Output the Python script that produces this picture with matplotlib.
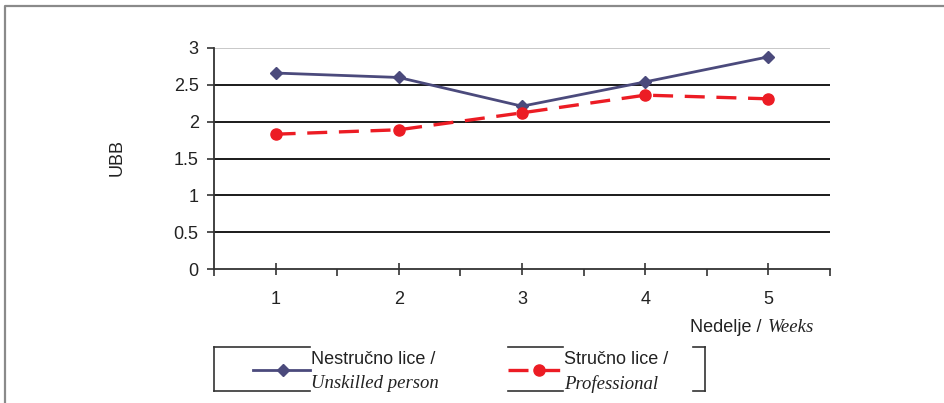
import matplotlib.pyplot as plt
from matplotlib.lines import Line2D

weeks = [1, 2, 3, 4, 5]
unskilled = [2.66, 2.60, 2.21, 2.54, 2.88]
professional = [1.83, 1.89, 2.12, 2.36, 2.31]
yticks = [0, 0.5, 1, 1.5, 2, 2.5, 3]

sans = 'Liberation Sans'
serif = 'Liberation Serif'
blue = '#4b4a7c'
red = '#ec1c24'
fs = 13

fig = plt.figure(figsize=(9.44, 4.03), dpi=100)
W, H = 944.0, 403.0

def fx(px):
    return px / W

def fy(py):
    return 1 - py / H

ax = fig.add_axes([fx(214), fy(269), fx(830) - fx(214), fy(48) - fy(269)])

for y in yticks[1:-1]:
    ax.axhline(y, color='#1a1a1a', lw=1.4, zorder=1)
ax.axhline(3, color='#c8c8c8', lw=1.4, zorder=1)

ax.plot(weeks, unskilled, color=blue, lw=2.0, marker='D', ms=6, zorder=3)
ax.plot(weeks, professional, color=red, lw=2.4, ls=(0, (6, 3.5)), marker='o', ms=8, zorder=3)

ax.set_xlim(0.5, 5.5)
ax.set_ylim(0, 3)
ax.set_xticks(weeks)
ax.set_xticks([0.5, 1.5, 2.5, 3.5, 4.5, 5.5], minor=True)
ax.set_yticks(yticks)
ax.set_yticklabels(['0', '0.5', '1', '1.5', '2', '2.5', '3'])

for s in ['top', 'right']:
    ax.spines[s].set_visible(False)
ax.spines['left'].set_color('#333333')
ax.spines['bottom'].set_color('#333333')
ax.spines['left'].set_linewidth(1.3)
ax.spines['bottom'].set_linewidth(1.3)

ax.tick_params(axis='x', which='major', direction='inout', length=8, width=1.2,
               color='#333333', pad=12, labelsize=fs)
ax.tick_params(axis='x', which='minor', direction='out', length=5, width=1.2,
               color='#333333')
ax.tick_params(axis='y', direction='out', length=5, width=1.2, color='#333333',
               pad=6, labelsize=fs)
for lab in ax.get_xticklabels() + ax.get_yticklabels():
    lab.set_family(sans)
    lab.set_color('#222222')

fig.text(fx(117), fy(158), 'UBB', rotation=90, ha='center', va='center',
         fontsize=fs, family=sans, color='#222222')

fig.text(fx(767), fy(328), 'Nedelje / ', ha='right', va='center',
         fontsize=fs, family=sans, color='#222222')
fig.text(fx(768), fy(327), 'Weeks', ha='left', va='center',
         fontsize=13.5, family=serif, style='italic', color='#222222')

# outer frame
fig.add_artist(Line2D([fx(5), fx(5), 1], [0, fy(6), fy(6)], color='#8a8a8a', lw=1.6))

# legend drawn by hand
lc = '#333333'
def seg(x0, y0, x1, y1):
    fig.add_artist(Line2D([fx(x0), fx(x1)], [fy(y0), fy(y1)], color=lc, lw=1.2))

seg(214, 347, 310, 347)
seg(214, 391, 310, 391)
seg(214, 347, 214, 391)
seg(508, 347, 563, 347)
seg(508, 391, 563, 391)
seg(693, 347, 705, 347)
seg(693, 391, 705, 391)
seg(705, 347, 705, 391)

fig.add_artist(Line2D([fx(253), fx(310)], [fy(370), fy(370)], color=blue, lw=2.0))
fig.add_artist(Line2D([fx(283)], [fy(370)], color=blue, marker='D', ms=6))
fig.add_artist(Line2D([fx(508), fx(563)], [fy(370), fy(370)], color=red, lw=2.4,
                      ls=(0, (6, 3.5))))
fig.add_artist(Line2D([fx(539)], [fy(370)], color=red, marker='o', ms=8))

fig.text(fx(311), fy(360), 'Nestručno lice /', ha='left', va='center',
         fontsize=fs, family=sans, color='#222222')
fig.text(fx(311), fy(384), 'Unskilled person', ha='left', va='center',
         fontsize=13.5, family=serif, style='italic', color='#222222')
fig.text(fx(564), fy(360), 'Stručno lice /', ha='left', va='center',
         fontsize=fs, family=sans, color='#222222')
fig.text(fx(564), fy(384), 'Professional', ha='left', va='center',
         fontsize=13.5, family=serif, style='italic', color='#222222')

fig.savefig('out.png', dpi=100)
